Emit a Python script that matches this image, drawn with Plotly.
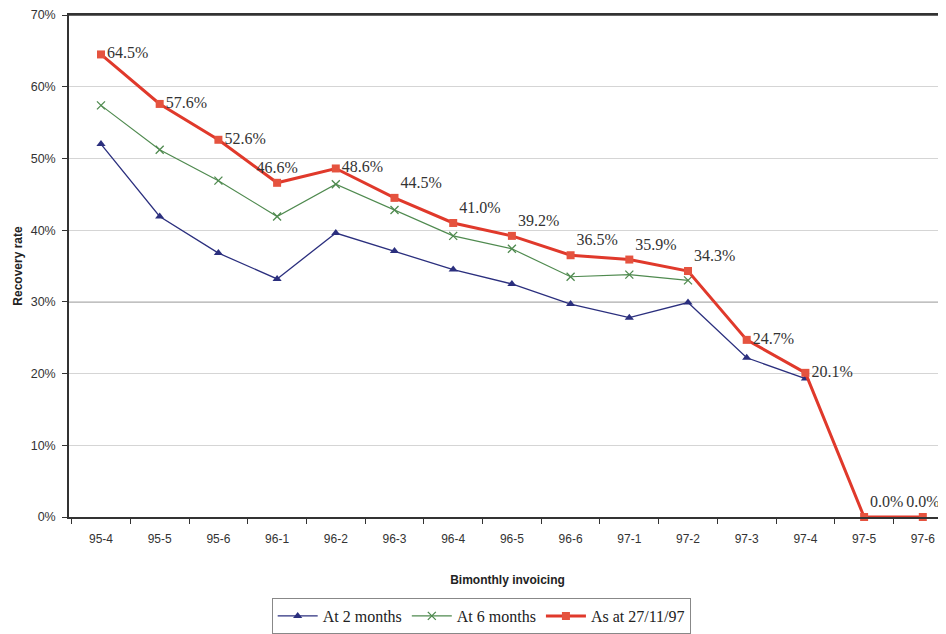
import plotly.graph_objects as go

categories = ["95-4", "95-5", "95-6", "96-1", "96-2", "96-3", "96-4", "96-5",
              "96-6", "97-1", "97-2", "97-3", "97-4", "97-5", "97-6"]
at_2_months = [0.520, 0.419, 0.368, 0.332, 0.396, 0.371, 0.345, 0.325,
               0.297, 0.278, 0.299, 0.222, 0.193]
at_6_months = [0.574, 0.512, 0.469, 0.419, 0.464, 0.428, 0.392, 0.374,
               0.335, 0.338, 0.330]
as_at_271197 = [0.645, 0.576, 0.526, 0.466, 0.486, 0.445, 0.410, 0.392,
                0.365, 0.359, 0.343, 0.247, 0.201, 0.0, 0.0]
label_pos = ["middle right", "middle right", "middle right", "top center",
             "middle right", "top right", "top right", "top right", "top right",
             "top right", "top right", "middle right", "middle right",
             "top right", "top center"]

serif = "Liberation Serif, DejaVu Serif, serif"
sans = "Liberation Sans, Arial, sans-serif"

fig = go.Figure()
fig.add_trace(go.Scatter(
    x=categories[:len(at_2_months)], y=at_2_months, name="At 2 months",
    mode="lines+markers",
    line=dict(color="#2B2F7E", width=1.3),
    marker=dict(symbol="triangle-up", size=8, color="#2B2F7E"),
))
fig.add_trace(go.Scatter(
    x=categories[:len(at_6_months)], y=at_6_months, name="At 6 months",
    mode="lines+markers",
    line=dict(color="#4F8A4F", width=1.2),
    marker=dict(symbol="x-thin", size=8, color="#4F8A4F",
                line=dict(color="#4F8A4F", width=1.3)),
))
fig.add_trace(go.Scatter(
    x=categories, y=as_at_271197, name="As at 27/11/97",
    mode="lines+markers+text",
    line=dict(color="#E0392B", width=3),
    marker=dict(symbol="square", size=8, color="#E5533F"),
    text=[f"{v*100:.1f}%" for v in as_at_271197],
    textposition=label_pos,
    textfont=dict(family=serif, size=16, color="#333333"),
    cliponaxis=False,
))

# darker 30% rule and top frame line, as in the printed original
fig.add_shape(type="line", xref="paper", yref="y", x0=0, x1=1, y0=0.3, y1=0.3,
              line=dict(color="#555555", width=1), layer="below")
fig.add_shape(type="line", xref="paper", yref="paper", x0=0, x1=1, y0=1, y1=1,
              line=dict(color="#333333", width=1.5), layer="above")

fig.update_layout(
    width=938, height=626,
    margin=dict(l=61, r=0, t=7, b=114),
    paper_bgcolor="white", plot_bgcolor="white",
    showlegend=True,
    legend=dict(
        orientation="h", x=0.47, xanchor="center", y=-0.162, yanchor="top",
        bordercolor="#888888", borderwidth=1,
        font=dict(family=serif, size=16, color="#222222"),
        itemwidth=40, tracegroupgap=0,
    ),
    xaxis=dict(
        type="category", categoryorder="array", categoryarray=categories,
        range=[-0.545, 14.395], automargin=False,
        showline=True, linecolor="#333333", linewidth=1.5, mirror=True,
        showgrid=False, ticks="outside", tickson="boundaries", ticklen=5,
        tickcolor="#333333", ticklabelstandoff=10,
        tickfont=dict(family=sans, size=12, color="#333333"),
        title=dict(text="<b>Bimonthly invoicing</b>",
                   font=dict(family=sans, size=12, color="#222222"), standoff=30),
    ),
    yaxis=dict(
        range=[0, 0.70], dtick=0.1, tickformat=".0%", automargin=False,
        showline=True, linecolor="#333333", linewidth=1.5,
        showgrid=True, gridcolor="#D5D5D5", gridwidth=1,
        ticks="outside", ticklen=5, tickcolor="#333333",
        ticklabeloverflow="allow", ticklabelstandoff=4,
        tickfont=dict(family=sans, size=12.5, color="#333333"),
        zeroline=False,
        title=dict(text="<b>Recovery rate</b>",
                   font=dict(family=sans, size=12, color="#222222"), standoff=6),
    ),
)

fig.write_html("out.html")
